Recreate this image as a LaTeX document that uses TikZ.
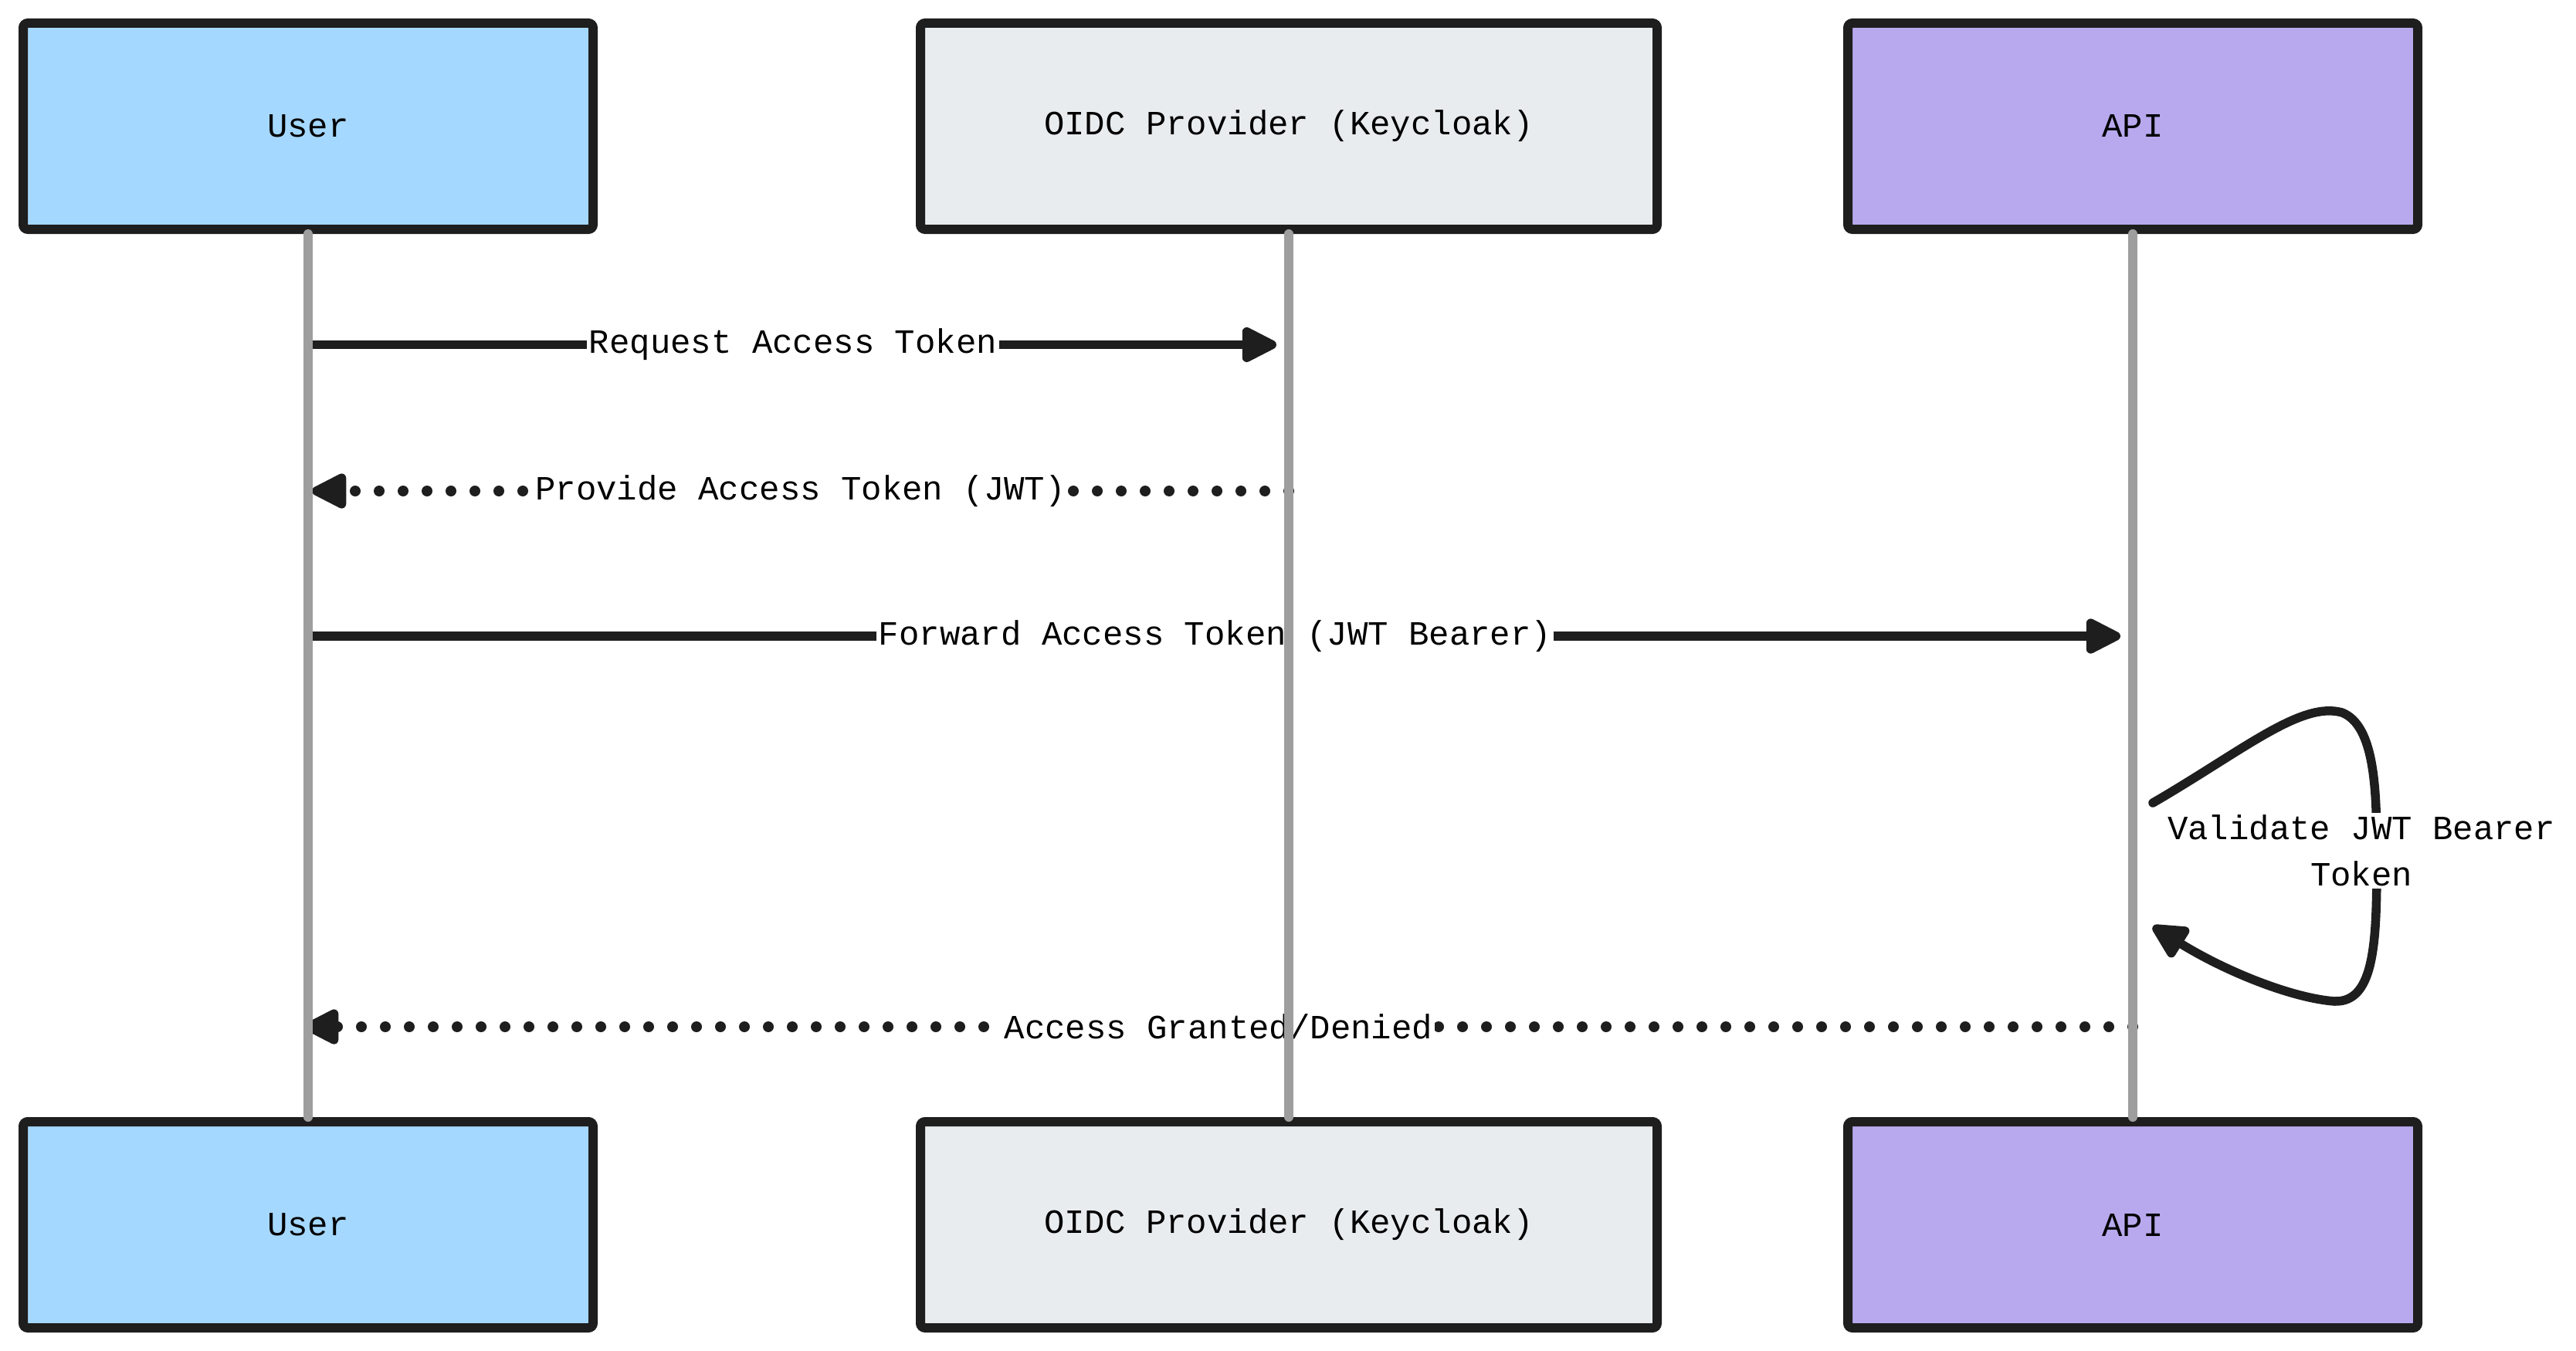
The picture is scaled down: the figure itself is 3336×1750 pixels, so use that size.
\documentclass[tikz,border=0pt]{standalone}
\usepackage{fontspec}
\setmonofont{Liberation Mono}
\usetikzlibrary{arrows.meta}
\definecolor{ink}{HTML}{1E1E1E}
\definecolor{userc}{HTML}{A5D8FF}
\definecolor{oidcc}{HTML}{E9ECEF}
\definecolor{apic}{HTML}{B8A9EE}
\definecolor{lifec}{HTML}{9E9E9E}
\tikzset{
  actor/.style={draw=ink, line width=12pt, rounded corners=6pt, minimum width=738pt, minimum height=267pt, inner sep=0pt, text=black},
  life/.style={draw=lifec, line width=12pt, line cap=round},
  msg/.style={draw=ink, line width=11.5pt, line cap=round, -{Triangle[length=52pt,width=49pt,round]}},
  dotmsg/.style={draw=ink, line width=14pt, line cap=round, dash pattern=on 0pt off 31pt, -{Triangle[length=52pt,width=49pt,round,line width=11.5pt]}},
  lbl/.style={fill=white, inner sep=3pt, text=black}
}
\begin{document}
\begin{tikzpicture}[x=1pt,y=-1pt, font=\ttfamily\fontsize{44}{60}\selectfont]
\useasboundingbox (0,0) rectangle (3336,1750);
% actors
\node[actor, fill=userc] (ut) at (399,163.5) {User};
\node[actor, fill=oidcc, minimum width=954pt] (ot) at (1669,163.5) {OIDC Provider (Keycloak)};
\node[actor, fill=apic] (at) at (2762,163.5) {API};
\node[actor, fill=userc] (ub) at (399,1586.5) {User};
\node[actor, fill=oidcc, minimum width=954pt] (ob) at (1669,1586.5) {OIDC Provider (Keycloak)};
\node[actor, fill=apic] (ab) at (2762,1586.5) {API};
% message end points
\coordinate (m1s) at (401,446.5);
\coordinate (m1e) at (1653,446.5);
\coordinate (m2s) at (1669,636);
\coordinate (m2e) at (404,636);
\coordinate (m3s) at (401,824);
\coordinate (m3e) at (2746,824);
\coordinate (m4s) at (2788,1040);
\coordinate (m4e) at (2788,1200);
\coordinate (m5s) at (2762,1330);
\coordinate (m5e) at (394,1330);
% messages
\draw[msg] (m1s) -- node[lbl] {Request Access Token} (m1e);
\draw[dotmsg] (m2s) -- node[lbl] {Provide Access Token (JWT)} (m2e);
\draw[msg] (m3s) -- node[lbl] {Forward Access Token (JWT Bearer)} (m3e);
\draw[msg] (m4s) .. controls (2905,972) and (2980,908) .. (3033,923)
  .. controls (3076,940) and (3078,1025) .. (3078,1110)
  .. controls (3078,1218) and (3076,1299) .. (3023,1297)
  .. controls (2970,1293) and (2885,1260) .. (m4e);
\node[lbl, align=center] (m4l) at (3058,1102) {Validate JWT Bearer\\Token};
\draw[dotmsg] (m5s) -- node[lbl] {Access Granted/Denied} (m5e);
% lifelines
\draw[life] (ut.south) -- (ub.north);
\draw[life] (ot.south) -- (ob.north);
\draw[life] (at.south) -- (ab.north);
\end{tikzpicture}
\end{document}
